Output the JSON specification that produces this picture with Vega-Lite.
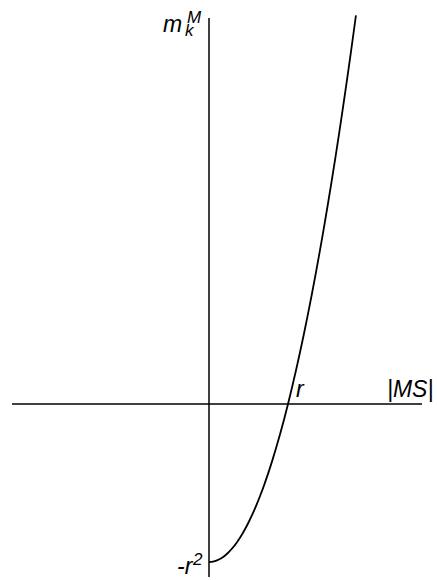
{
  "$schema": "https://vega.github.io/schema/vega-lite/v6.json",
  "width": 437,
  "height": 580,
  "padding": 0,
  "autosize": {"type": "none"},
  "config": {"view": {"stroke": null}},
  "datasets": {
    "curve": [
      {"s": 0, "m": -1}, {"s": 0.05, "m": -0.9975}, {"s": 0.1, "m": -0.99}, {"s": 0.15, "m": -0.9775},
      {"s": 0.2, "m": -0.96}, {"s": 0.25, "m": -0.9375}, {"s": 0.3, "m": -0.91}, {"s": 0.35, "m": -0.8775},
      {"s": 0.4, "m": -0.84}, {"s": 0.45, "m": -0.7975}, {"s": 0.5, "m": -0.75}, {"s": 0.55, "m": -0.6975},
      {"s": 0.6, "m": -0.64}, {"s": 0.65, "m": -0.5775}, {"s": 0.7, "m": -0.51}, {"s": 0.75, "m": -0.4375},
      {"s": 0.8, "m": -0.36}, {"s": 0.85, "m": -0.2775}, {"s": 0.9, "m": -0.19}, {"s": 0.95, "m": -0.0975},
      {"s": 1.0, "m": 0}, {"s": 1.05, "m": 0.1025}, {"s": 1.1, "m": 0.21}, {"s": 1.15, "m": 0.3225},
      {"s": 1.2, "m": 0.44}, {"s": 1.25, "m": 0.5625}, {"s": 1.3, "m": 0.69}, {"s": 1.35, "m": 0.8225},
      {"s": 1.4, "m": 0.96}, {"s": 1.45, "m": 1.1025}, {"s": 1.5, "m": 1.25}, {"s": 1.55, "m": 1.4025},
      {"s": 1.6, "m": 1.56}, {"s": 1.65, "m": 1.7225}, {"s": 1.7, "m": 1.89}, {"s": 1.75, "m": 2.0625},
      {"s": 1.8, "m": 2.24}, {"s": 1.85, "m": 2.4225}, {"s": 1.86, "m": 2.4596}
    ],
    "axes": [
      {"axis": "MS", "x1": -2.494, "x2": 2.696, "y1": 0, "y2": 0},
      {"axis": "m", "x1": 0, "x2": 0, "y1": -1.095, "y2": 2.443}
    ],
    "labels": [
      {"x": -0.582, "y": 2.354, "text": "m"},
      {"x": 1.101, "y": 0.044, "text": "r"},
      {"x": 2.253, "y": 0.044, "text": "|MS|"},
      {"x": -0.405, "y": -1.076, "text": "-r"}
    ],
    "scripts": [
      {"x": -0.304, "y": 2.329, "text": "k"},
      {"x": -0.278, "y": 2.411, "text": "M"},
      {"x": -0.203, "y": -1.019, "text": "2"}
    ]
  },
  "layer": [
    {
      "data": {"name": "axes"},
      "mark": {"type": "rule", "color": "black", "strokeWidth": 1.5},
      "encoding": {
        "x": {"field": "x1", "type": "quantitative", "scale": {"domain": [-2.6456, 2.8861], "nice": false, "zero": false}, "axis": null},
        "x2": {"field": "x2"},
        "y": {"field": "y1", "type": "quantitative", "scale": {"domain": [-1.1139, 2.557], "nice": false, "zero": false}, "axis": null},
        "y2": {"field": "y2"}
      }
    },
    {
      "data": {"name": "curve"},
      "mark": {"type": "line", "color": "black", "strokeWidth": 1.8, "interpolate": "monotone"},
      "encoding": {
        "x": {"field": "s", "type": "quantitative"},
        "y": {"field": "m", "type": "quantitative"},
        "order": {"field": "s"}
      }
    },
    {
      "data": {"name": "labels"},
      "mark": {"type": "text", "align": "left", "baseline": "alphabetic", "font": "Liberation Sans", "fontStyle": "italic", "fontSize": 23, "color": "black"},
      "encoding": {
        "x": {"field": "x", "type": "quantitative"},
        "y": {"field": "y", "type": "quantitative"},
        "text": {"field": "text"}
      }
    },
    {
      "data": {"name": "scripts"},
      "mark": {"type": "text", "align": "left", "baseline": "alphabetic", "font": "Liberation Sans", "fontStyle": "italic", "fontSize": 17, "color": "black"},
      "encoding": {
        "x": {"field": "x", "type": "quantitative"},
        "y": {"field": "y", "type": "quantitative"},
        "text": {"field": "text"}
      }
    }
  ]
}
